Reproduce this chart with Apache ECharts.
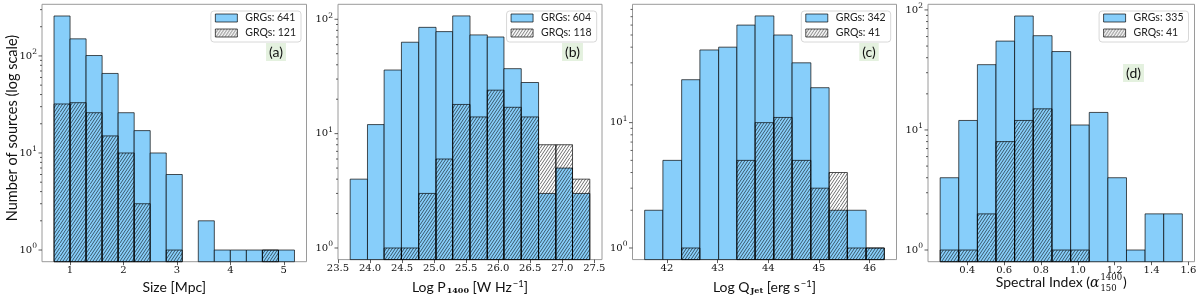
<!DOCTYPE html>
<html><head><meta charset="utf-8">
<script src="https://cdn.jsdelivr.net/npm/echarts@6/dist/echarts.min.js"></script>
<style>html,body{margin:0;padding:0;background:#fff}#c{width:1200px;height:300px}</style>
</head><body><div id="c"></div>
<script>
// ---------- data ----------
const sizeEdges = [0.7,1.0,1.3,1.6,1.9,2.2,2.5,2.8,3.1,3.4,3.7,4.0,4.3,4.6,4.9,5.2];
const sizeGRG   = [258,150,101,66,26,17,10,6,0,2,1,1,1,1,1];
const sizeGRQ   = [32,33,26,15,10,3,0,1,0,0,0,0,0,1,0];
const sizeTicks = [1,2,3,4,5];

const powerEdges = [23.69,23.96,24.22,24.49,24.76,25.03,25.29,25.56,25.83,26.09,26.36,26.63,26.90,27.16,27.43];
const powerGRG   = [4,12,36,63,85,78,107,73,70,37,28,3,5,3];
const powerGRQ   = [0,0,1,1,3,6,18,14,24,17,14,8,8,4];
const powerTicks = [23.5,24.0,24.5,25.0,25.5,26.0,26.5,27.0,27.5];

const jetEdges = [41.56,41.92,42.29,42.65,43.02,43.38,43.74,44.11,44.47,44.84,45.20,45.56,45.93,46.29];
const jetGRG   = [2,5,22,38,40,60,71,50,30,19,2,2,1];
const jetGRQ   = [0,0,1,0,0,5,10,11,5,3,4,1,1];
const jetTicks = [42,43,44,45,46];

const specEdges = [0.253,0.354,0.455,0.556,0.657,0.758,0.860,0.961,1.062,1.163,1.264,1.365,1.466,1.567];
const specGRG   = [4,12,35,55,89,61,45,11,14,4,1,2,2];
const specGRQ   = [1,1,2,8,12,15,1,1,0,0,0,0,0];
const specTicks = [0.4,0.6,0.8,1.0,1.2,1.4,1.6];

const legendGRG = ['GRGs: 641','GRGs: 604','GRGs: 342','GRGs: 335'];
const legendGRQ = ['GRQs: 121','GRQs: 118','GRQs: 41','GRQs: 41'];
const panelTags = ['(a)','(b)','(c)','(d)'];
const yMajor = [1,10,100];
const yMinor = [2,3,4,5,6,7,8,9,20,30,40,50,60,70,80,90,200,300];

// ---------- styling / layout ----------
const BLUE = '#87cefa';
const EDGE = 'rgba(0,0,0,0.68)';
const FRAME = '#9a9a9a';
const grids = [
  {left:42,  top:4.3, width:264.5, height:257.4},
  {left:338, top:4.3, width:264,   height:257.4},
  {left:632.5,top:4.3,width:264,   height:257.4},
  {left:928, top:4.3, width:266.5, height:257.4}
];
const xRanges = [[0.475,5.425],[23.50,27.62],[41.32,46.53],[0.187,1.633]];
const yRanges = [[0.758,340.5],[0.7917,135.2],[0.808,87.9],[0.799,111.4]];
const tagPos = [[276,52],[572.5,52],[869,52],[1133.5,73]];

function makeHatch(){
  const W=30,H=45;
  const c=document.createElement('canvas'); c.width=W; c.height=H;
  const g=c.getContext('2d');
  g.strokeStyle='rgba(0,0,0,0.72)'; g.lineWidth=0.8;
  for(let k=-2;k<=22;k++){
    const cc=k*4.5;
    g.beginPath(); g.moveTo(0,cc); g.lineTo(W,cc-1.5*W); g.stroke();
  }
  return {image:c, repeat:'repeat'};
}
const HATCH = makeHatch();

function histData(edges, counts){
  const out=[];
  counts.forEach((v,k)=>{ if(v>0) out.push([edges[k],edges[k+1],v]); });
  return out;
}
function histSeries(i, name, edges, counts, fill){
  return {
    type:'custom', name, xAxisIndex:i, yAxisIndex:i, silent:true, animation:false,
    encode:{x:[0,1], y:2},
    itemStyle:{color:fill, borderColor:EDGE, borderWidth:1},
    data: histData(edges, counts),
    renderItem(params, api){
      const p0=api.coord([api.value(0), api.value(2)]);
      const p1=api.coord([api.value(1), api.value(2)]);
      const cs=params.coordSys; const bottom=cs.y+cs.height;
      return {type:'rect', shape:{x:p0[0], y:p0[1], width:p1[0]-p0[0], height:bottom-p0[1]},
        style:{fill:fill, stroke:EDGE, lineWidth:1}};
    }
  };
}
function tickSeries(i, vals, len){
  const r=yRanges[i];
  return {
    type:'custom', xAxisIndex:i, yAxisIndex:i, silent:true, animation:false,
    encode:{x:0, y:1},
    data: vals.filter(v=>v>=r[0]&&v<=r[1]).map(v=>[xRanges[i][0], v]),
    renderItem(params, api){
      const y=api.coord([api.value(0), api.value(1)])[1];
      const x=params.coordSys.x;
      return {type:'line', shape:{x1:x-len, y1:y, x2:x, y2:y}, style:{stroke:'#333', lineWidth:0.8}};
    }
  };
}

const serifLabel = {fontFamily:'DejaVu Serif', fontSize:10, color:'#111'};
const nameRich = {
  n:{fontFamily:'Lato', fontSize:14, color:'#111'},
  sub:{fontFamily:'DejaVu Serif', fontWeight:'bold', fontSize:8, color:'#111', padding:[7,0,0,1]},
  sup:{fontFamily:'Lato', fontSize:9.5, color:'#111', padding:[0,0,8,1]}
};
const xNames = ['{n|Size [Mpc]}', '{n|Log P}{sub|1400}{n| [W Hz}{sup|−1}{n|]}', '{n|Log Q}{sub|Jet}{n| [erg s}{sup|−1}{n|]}', ''];
const tickLists = [sizeTicks, powerTicks, jetTicks, specTicks];
const tickFmt = [v=>String(v), v=>v.toFixed(1), v=>String(v), v=>v.toFixed(1)];

const xAxis = [], yAxis = [];
for(let i=0;i<4;i++){
  xAxis.push({
    type:'value', gridIndex:i, min:xRanges[i][0], max:xRanges[i][1],
    axisLine:{show:false}, splitLine:{show:false},
    axisTick:{show:true, customValues:tickLists[i], length:3.5, lineStyle:{color:'#333', width:0.8}},
    axisLabel:Object.assign({customValues:tickLists[i], formatter:tickFmt[i], margin:4}, serifLabel),
    name:xNames[i], nameLocation:'middle', nameGap:8,
    nameTextStyle:{fontFamily:'Lato', fontSize:14, color:'#111', rich:nameRich}
  });
  yAxis.push({
    type:'log', logBase:10, gridIndex:i, min:yRanges[i][0], max:yRanges[i][1],
    axisLine:{show:false}, splitLine:{show:false}, axisTick:{show:false}, minorTick:{show:false},
    axisLabel:{margin:5, showMinLabel:true, showMaxLabel:true,
      formatter:v=>{ const e=Math.log10(v); const r=Math.round(e); return Math.abs(e-r)<1e-6 ? '{b|10}{s|'+r+'}' : ''; },
      rich:{ b:{fontFamily:'DejaVu Serif', fontSize:10, color:'#111'}, s:{fontFamily:'DejaVu Serif', fontSize:7.5, color:'#111', padding:[0,0,7,0]} }
    }
  });
}

const series=[]; const legends=[];
const grgData=[sizeGRG,powerGRG,jetGRG,specGRG], grqData=[sizeGRQ,powerGRQ,jetGRQ,specGRQ];
const edgeData=[sizeEdges,powerEdges,jetEdges,specEdges];
const legendRight=[899,603.3,309.3,11.5];
for(let i=0;i<4;i++){
  series.push(histSeries(i, legendGRG[i], edgeData[i], grgData[i], BLUE));
  series.push(histSeries(i, legendGRQ[i], edgeData[i], grqData[i], HATCH));
  series.push(tickSeries(i, yMajor, 3.5));
  series.push(tickSeries(i, yMinor, 2));
  legends.push({
    right:legendRight[i], top:11, orient:'vertical', selectedMode:false,
    itemWidth:22, itemHeight:8, itemGap:3, padding:[1,5,3,4],
    borderColor:'#d8d8d8', borderWidth:1, borderRadius:3, backgroundColor:'rgba(255,255,255,0.85)',
    textStyle:{fontFamily:'Lato', fontSize:10.5, color:'#222', lineHeight:12, padding:[0,0,0,3]},
    data:[
      {name:legendGRG[i], icon:'rect', itemStyle:{color:BLUE, borderColor:EDGE, borderWidth:1}},
      {name:legendGRQ[i], icon:'rect', itemStyle:{color:HATCH, borderColor:EDGE, borderWidth:1}}
    ]
  });
}

const graphic=[];
panelTags.forEach((t,i)=>{
  graphic.push({type:'text', x:tagPos[i][0], y:tagPos[i][1], silent:true,
    style:{text:t, fontFamily:'Lato', fontSize:14, fill:'#111', align:'center', verticalAlign:'middle',
      backgroundColor:'#e4f1df', padding:[2,3,2,3]}});
});
graphic.push({type:'text', x:12, y:128, rotation:Math.PI/2, silent:true,
  style:{text:'Number of sources (log scale)', fontFamily:'Lato', fontSize:14.5, fill:'#111', align:'center', verticalAlign:'middle'}});

// spectral index axis name built from measured pieces
(function(){
  const ctx=document.createElement('canvas').getContext('2d');
  function tw(txt, size, fam, style){ ctx.font=(style||'normal')+' '+size+'px '+fam; return ctx.measureText(txt).width; }
  const w1=tw('Spectral Index (',14,'Lato');
  const w2=tw('α',14,'"DejaVu Serif"','italic');
  const w3=Math.max(tw('1400',8.5,'"DejaVu Serif"'), tw('150',8.5,'"DejaVu Serif"'));
  const w4=tw(')',14,'Lato');
  const g=grids[3]; const cx=g.left+g.width/2;
  let x=cx-(w1+w2+w3+w4+2)/2; const yMid=282;
  function piece(txt, px, py, size, fam, style){
    graphic.push({type:'text', x:px, y:py, silent:true,
      style:{text:txt, fontFamily:fam, fontSize:size, fontStyle:style||'normal', fill:'#111', align:'left', verticalAlign:'middle'}});
  }
  piece('Spectral Index (', x, yMid, 14, 'Lato');
  x+=w1;
  piece('α', x, yMid+1, 14, 'DejaVu Serif', 'italic');
  x+=w2+1;
  piece('1400', x, yMid-4, 8.5, 'DejaVu Serif');
  piece('150', x, yMid+7, 8.5, 'DejaVu Serif');
  x+=w3+1;
  piece(')', x, yMid, 14, 'Lato');
})();

const chart=echarts.init(document.getElementById('c'), null, {renderer:'canvas'});
chart.setOption({
  animation:false, backgroundColor:'#fff',
  grid:grids.map(g=>Object.assign({show:true, borderColor:FRAME, borderWidth:1, backgroundColor:'transparent', containLabel:false}, g)),
  xAxis, yAxis, series, legend:legends, graphic
});
</script></body></html>
